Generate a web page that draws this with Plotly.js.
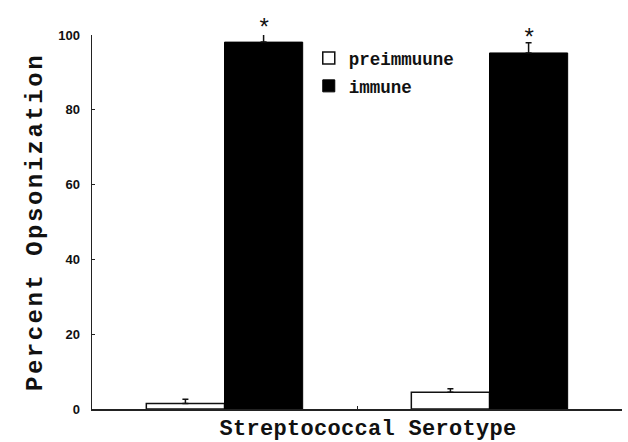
<!DOCTYPE html>
<html>
<head>
<meta charset="utf-8">
<script src="https://cdn.plot.ly/plotly-3.0.1.min.js"></script>
<style>
  html, body { margin: 0; padding: 0; background: #fff; }
  #chart { width: 628px; height: 442px; }
  #chart .ytitle { letter-spacing: 2.5px; }
  #chart .xtitle { letter-spacing: 0.3px; transform: translate(11px, 0px); }
</style>
</head>
<body>
<div id="chart"></div>
<script>
// ---- data ----
const categories = ["Serotype A", "Serotype B"];
const preimmuneValues = [1.5, 4.5];
const preimmuneErrors = [1.1, 0.9];
const immuneValues = [98.1, 95.2];
const immuneErrors = [2.2, 2.7];
const significant = ["*", "*"];
const yTicks = [0, 20, 40, 60, 80, 100];

const monoFont = "'Liberation Mono', 'Courier New', monospace";
const barGap = 0.41;

const traces = [
  {
    type: "bar",
    name: "preimmuune",
    legendgroup: "g1",
    x: categories,
    y: preimmuneValues,
    cliponaxis: false,
    marker: { color: "#ffffff", line: { color: "#111111", width: 1.5 } },
    error_y: {
      type: "data", symmetric: false,
      array: preimmuneErrors,
      arrayminus: preimmuneErrors.map(() => 0),
      color: "#111111", thickness: 1.5, width: 3
    }
  },
  {
    type: "bar",
    name: "immune",
    legendgroup: "g2",
    x: categories,
    y: immuneValues,
    cliponaxis: false,
    marker: { color: "#000000", line: { color: "#000000", width: 1 } },
    error_y: {
      type: "data", symmetric: false,
      array: immuneErrors,
      arrayminus: immuneErrors.map(() => 0),
      color: "#111111", thickness: 1.5, width: 3
    }
  }
];

const annotations = significant.map((s, i) => ({
  x: i + (1 - barGap) / 4,
  xref: "x",
  y: immuneValues[i],
  yref: "y",
  yanchor: "middle",
  yshift: 13,
  text: s,
  showarrow: false,
  font: { family: monoFont, size: 24, color: "#111" }
}));

const layout = {
  width: 628,
  height: 442,
  margin: { l: 92, r: 6, t: 35, b: 33 },
  paper_bgcolor: "#ffffff",
  plot_bgcolor: "#ffffff",
  barmode: "group",
  bargap: barGap,
  bargroupgap: 0,
  showlegend: true,
  legend: {
    x: 0.409, y: 0.986, xanchor: "left", yanchor: "top",
    font: { family: monoFont, size: 17.5, color: "#111", weight: "bold" },
    tracegroupgap: 2,
    bgcolor: "rgba(0,0,0,0)"
  },
  xaxis: {
    type: "category",
    range: [-0.5, 1.5],
    showticklabels: false,
    showline: true, linecolor: "#222", linewidth: 1.5,
    ticks: "inside", tickson: "boundaries", ticklen: 3, tickcolor: "#222",
    showgrid: false, zeroline: false,
    title: {
      text: "Streptococcal Serotype",
      font: { family: monoFont, size: 22, color: "#111", weight: "bold" },
      standoff: 18
    }
  },
  yaxis: {
    range: [0, 100],
    tickvals: yTicks,
    ticktext: yTicks.map(String),
    showline: true, linecolor: "#222", linewidth: 1.5,
    ticks: "inside", ticklen: 3, tickcolor: "#222",
    ticklabelstandoff: 8,
    tickfont: { family: "'Liberation Sans', Arial, sans-serif", size: 13, color: "#111", weight: "bold" },
    showgrid: false, zeroline: false,
    title: {
      text: "Percent Opsonization",
      font: { family: monoFont, size: 24, color: "#111", weight: "bold" },
      standoff: 9
    }
  },
  annotations: annotations
};

Plotly.newPlot("chart", traces, layout, { displayModeBar: false, staticPlot: true });
</script>
</body>
</html>
